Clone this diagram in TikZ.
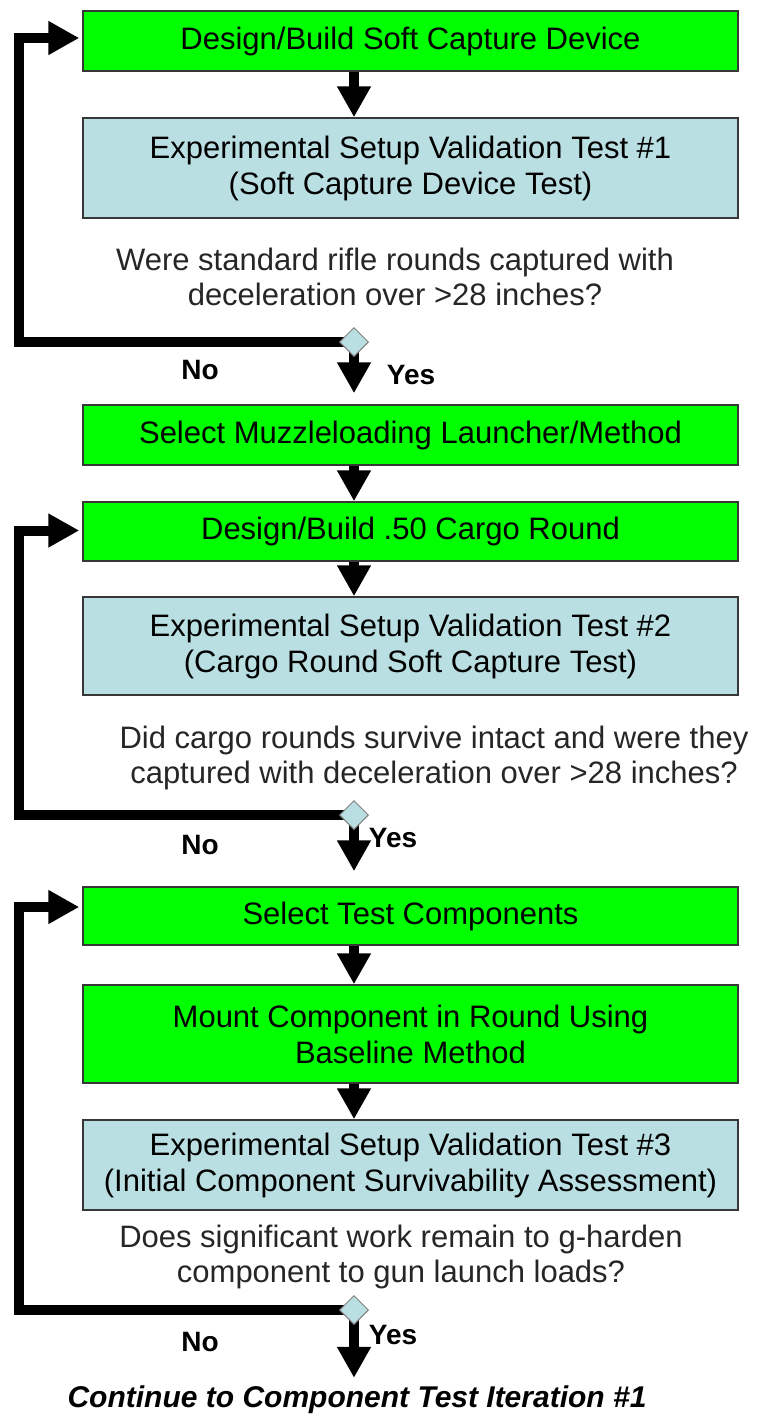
\documentclass[tikz,border=0pt]{standalone}
\usepackage{fontspec}
\setmainfont{Liberation Sans}
\usepackage{tikz}
\usetikzlibrary{shapes.geometric,arrows.meta,positioning,backgrounds}

\definecolor{boxgreen}{RGB}{0,255,0}
\definecolor{boxblue}{RGB}{186,223,226}
\definecolor{edgegray}{RGB}{55,55,55}

\begin{document}
\begin{tikzpicture}[
    x=1pt, y=-1pt,
    font=\fontsize{31}{36}\selectfont,
    greenbox/.style={draw=edgegray, line width=1.5pt, fill=boxgreen, minimum width=655pt, align=center, inner sep=0pt},
    bluebox/.style={greenbox, fill=boxblue},
    question/.style={align=center, text=black!85, font=\fontsize{31}{35}\selectfont},
    decision/.style={diamond, draw=gray, line width=1pt, fill=boxblue, minimum size=29pt, inner sep=0pt},
    flow/.style={line width=10pt, -{Triangle[length=31pt, width=32pt]}},
    answer/.style={font=\fontsize{28}{32}\selectfont\bfseries}
]
\useasboundingbox (0,0) rectangle (761,1414);

% Loop return column
\coordinate (loopx) at (19,0);

% Stage 1: soft capture device
\node (design1) at (410.5,41) [greenbox, minimum height=60pt] {Design/Build Soft Capture Device};
\node (test1) at (410.5,168) [bluebox, minimum height=100pt] {Experimental Setup Validation Test \#1\\(Soft Capture Device Test)};
\node (query1) at (395,277) [question] {Were standard rifle rounds captured with\\deceleration over >28 inches?};
\node (check1) at (354,342) [decision] {};
\node (no1) at (200,370) [answer] {No};
\node (yes1) at (411,375) [answer] {Yes};

% Stage 2: cargo round
\node (select1) at (410.5,435) [greenbox, minimum height=60pt] {Select Muzzleloading Launcher/Method};
\node (design2) at (410.5,531.5) [greenbox, minimum height=59pt] {Design/Build .50 Cargo Round};
\node (test2) at (410.5,646) [bluebox, minimum height=98pt] {Experimental Setup Validation Test \#2\\(Cargo Round Soft Capture Test)};
\node (query2) at (434,758) [question] {Did cargo rounds survive intact and were they\\captured with deceleration over >28 inches?};
\node (check2) at (354,815) [decision] {};
\node (no2) at (200,845) [answer] {No};
\node (yes2) at (393,838) [answer] {Yes};

% Stage 3: components
\node (select2) at (410.5,916) [greenbox, minimum height=58pt] {Select Test Components};
\node (mount) at (410.5,1034) [greenbox, minimum height=98pt] {Mount Component in Round Using\\Baseline Method};
\node (test3) at (410.5,1165) [bluebox, minimum height=90pt] {Experimental Setup Validation Test \#3\\(Initial Component Survivability Assessment)};
\node (query3) at (401,1257) [question] {Does significant work remain to g-harden\\component to gun launch loads?};
\node (check3) at (354,1310) [decision] {};
\node (no3) at (200,1342) [answer] {No};
\node (yes3) at (393,1335) [answer] {Yes};

\node (cont) at (357,1400) [font=\fontsize{30}{34}\selectfont\bfseries\itshape, inner sep=0pt] {Continue to Component Test Iteration \#1};

% Connectors
\begin{pgfonlayer}{background}
\draw [flow] (design1.south -| check1.center) -- (test1.north -| check1.center);
\draw [flow, shorten >=11pt] (check1.center) -- (select1.north -| check1.center);
\draw [flow] (select1.south -| check1.center) -- (design2.north -| check1.center);
\draw [flow] (design2.south -| check1.center) -- (test2.north -| check1.center);
\draw [flow, shorten >=15pt] (check2.center) -- (select2.north -| check2.center);
\draw [flow] (select2.south -| check2.center) -- (mount.north -| check2.center);
\draw [flow] (mount.south -| check2.center) -- (test3.north -| check2.center);
\draw [flow, shorten >=8pt] (check3.center) -- (cont.north -| check3.center);

% No loops
\draw [flow, shorten >=3pt] (check1.center) -- (check1.center -| loopx) |- ([yshift=3pt]design1.west);
\draw [flow, shorten >=3pt] (check2.center) -- (check2.center -| loopx) |- ([yshift=1pt]design2.west);
\draw [flow, shorten >=3pt] (check3.center) -- (check3.center -| loopx) |- ([yshift=9pt]select2.west);
\end{pgfonlayer}

\end{tikzpicture}
\end{document}
